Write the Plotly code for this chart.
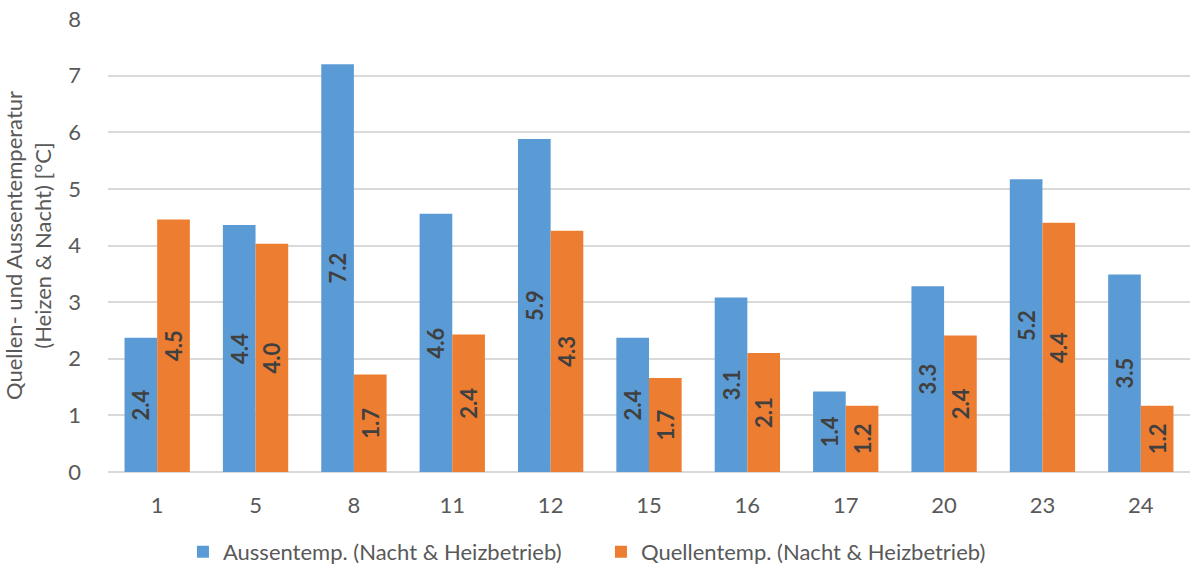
import plotly.graph_objects as go

# Measurement points and the mean temperatures at each
points = ["1", "5", "8", "11", "12", "15", "16", "17", "20", "23", "24"]
aussen = [2.37, 4.36, 7.20, 4.56, 5.88, 2.37, 3.08, 1.42, 3.28, 5.17, 3.49]
quellen = [4.46, 4.03, 1.72, 2.43, 4.26, 1.66, 2.10, 1.17, 2.41, 4.40, 1.17]

series = [
    ("Aussentemp. (Nacht & Heizbetrieb)", aussen, "#5B9BD5"),
    ("Quellentemp. (Nacht & Heizbetrieb)", quellen, "#ED7D31"),
]

FONT = "Lato"
GREY = "#595959"

fig = go.Figure()
for name, vals, color in series:
    fig.add_trace(go.Bar(
        x=points, y=vals, name=name,
        marker=dict(color=color, line=dict(width=0)),
        texttemplate="%{y:.1f}",
        textposition="inside",
        insidetextanchor="middle",
        textangle=-90,
        textfont=dict(family=FONT, size=22, color="#404040", weight="bold"),
        constraintext="none",
    ))

fig.update_layout(
    width=1190, height=569,
    margin=dict(l=108, r=0, t=19, b=97, autoexpand=False),
    paper_bgcolor="white", plot_bgcolor="white",
    barmode="group", bargap=0.336, bargroupgap=0,
    font=dict(family=FONT, color=GREY, size=22),
    showlegend=True,
    legend=dict(
        orientation="h", xref="container", x=0.505, xanchor="center",
        yref="container", y=0.03, yanchor="middle",
        font=dict(family=FONT, size=22, color=GREY),
        itemwidth=30, entrywidth=373,
    ),
    xaxis=dict(
        type="category", showgrid=False, showline=False, ticks="",
        tickfont=dict(family=FONT, size=22, color=GREY),
        ticklabelstandoff=18, automargin=False,
    ),
    yaxis=dict(
        range=[0, 8], dtick=1, showgrid=True, gridcolor="#D9D9D9", gridwidth=1.5,
        zeroline=True, zerolinecolor="#D9D9D9", zerolinewidth=1.5,
        showline=False, ticks="", automargin=False,
        tickfont=dict(family=FONT, size=22, color=GREY),
        ticklabelstandoff=26,
        title=dict(
            text="Quellen- und Aussentemperatur<br>(Heizen & Nacht) [°C]",
            font=dict(family=FONT, size=22, color=GREY),
            standoff=13,
        ),
    ),
)

fig.write_html("out.html")
